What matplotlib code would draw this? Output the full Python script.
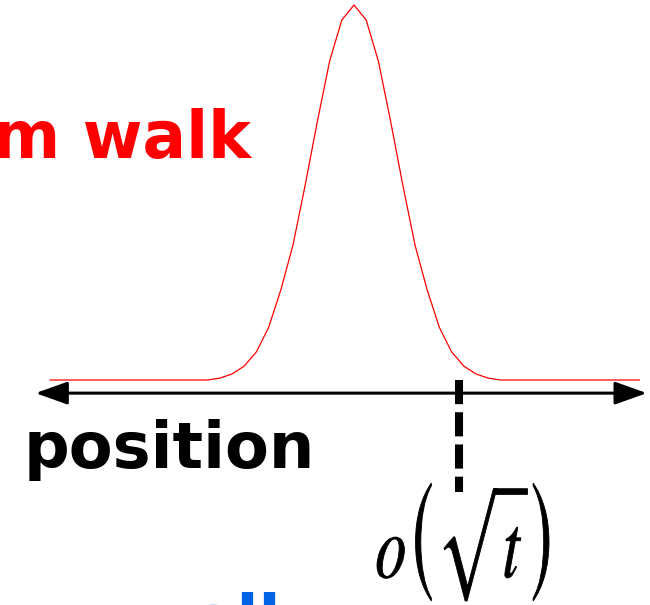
import numpy as np
import matplotlib
matplotlib.use('Agg')
import matplotlib.pyplot as plt
from matplotlib.textpath import TextPath
from matplotlib.patches import PathPatch
from matplotlib.font_manager import FontProperties
from matplotlib.transforms import Affine2D, IdentityTransform

# random-walk distribution after t steps (peak normalised to 1)
positions = [-24.9, -12, -11, -10, -9, -8, -7, -6, -5, -4, -3, -2, -1, 0,
             1, 2, 3, 4, 5, 6, 7, 8, 9, 10, 11, 12, 23.4]
prob = [0, 0, 0.005, 0.016, 0.037, 0.075, 0.14, 0.24, 0.36, 0.52, 0.69, 0.85, 0.96, 1.0,
        0.96, 0.85, 0.69, 0.52, 0.36, 0.24, 0.14, 0.075, 0.037, 0.016, 0.005, 0, 0]
spread_pos = 8.6          # where the o(sqrt t) marker sits
axis_range = (-26.1, 24.0)

W, H, DPI = 650, 605, 100
fig = plt.figure(figsize=(W / DPI, H / DPI), dpi=DPI)
ax = fig.add_axes([0, 0, 1, 1])
ax.set_xlim(-354 / 12.2, (W - 354) / 12.2)
ax.set_ylim(-225 / 375, 380 / 375)
ax.axis('off')

ax.plot(positions, prob, color='#FF0000', lw=0.9, zorder=3)

# position axis with arrows on both ends
ax.annotate('', xy=(axis_range[1], -0.035), xytext=(axis_range[0], -0.035),
            arrowprops=dict(arrowstyle='<|-|>,head_length=1.4,head_width=0.5',
                            color='black', lw=2.2, mutation_scale=14,
                            shrinkA=0, shrinkB=0))

ax.plot([spread_pos, spread_pos], [0, -0.299], color='black', lw=5.8,
        linestyle=(0, (3, 1)), dash_capstyle='butt', zorder=4)

def px(x, y):
    return x / W, 1 - y / H

fig.text(*px(251, 158), 'random walk', color='#FF0000', fontsize=46.5,
         fontweight='bold', ha='right', va='baseline', family='DejaVu Sans')
fig.text(*px(24, 468), 'position', color='black', fontsize=46,
         fontweight='bold', ha='left', va='baseline', family='DejaVu Sans')
fig.text(*px(301, 642), 'quantum walk', color='#0062E5', fontsize=46.5,
         fontweight='bold', ha='right', va='baseline', family='DejaVu Sans')

# o(sqrt t): equation-editor look, stretched into its box
tp = TextPath((0, 0), r'$o\left(\sqrt{t}\right)$', size=100,
              prop=FontProperties(math_fontfamily='stix'))
ext = tp.get_extents()
x0, x1 = 377, 549
y0, y1 = H - 601, H - 483
tr = (Affine2D().translate(-ext.x0, -ext.y0)
      .scale((x1 - x0) / ext.width, (y1 - y0) / ext.height)
      .translate(x0, y0))
fig.add_artist(PathPatch(tr.transform_path(tp), transform=IdentityTransform(),
                         facecolor='black', edgecolor='black', lw=0.6))

fig.savefig('out.png', dpi=DPI)
